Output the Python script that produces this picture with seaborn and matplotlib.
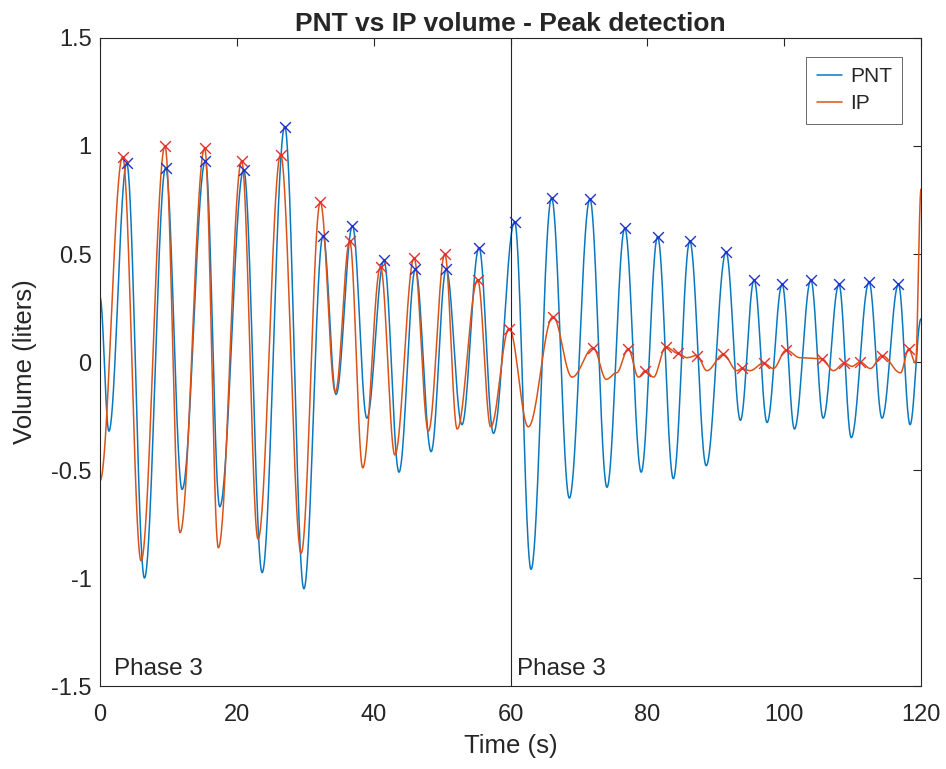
import numpy as np
import pandas as pd
import matplotlib
matplotlib.use("Agg")
import matplotlib.pyplot as plt
import seaborn as sns

# Extrema of the PNT trace (time in s, volume in liters)
pnt_t = [0, 1.3, 3.9, 6.5, 9.6, 12.0, 15.4, 17.5, 21.0, 23.7, 27.0, 29.8,
         32.6, 34.5, 36.9, 39.0, 41.5, 43.7, 46.1, 48.4, 50.6, 52.9, 55.4, 57.5,
         60.6, 63.0, 66.0, 68.6, 71.6, 74.1, 76.7, 79.1, 81.5, 83.8, 86.2, 88.6,
         91.5, 93.6, 95.6, 97.5, 99.7, 101.5, 103.9, 105.7, 108.0, 109.8, 112.4,
         114.3, 116.7, 118.4, 120]
pnt_v = [0.30, -0.32, 0.92, -1.0, 0.90, -0.59, 0.93, -0.67, 0.89, -0.975, 1.09, -1.05,
         0.585, -0.15, 0.63, -0.26, 0.47, -0.51, 0.43, -0.415, 0.43, -0.29, 0.53, -0.33,
         0.65, -0.96, 0.76, -0.63, 0.755, -0.58, 0.62, -0.51, 0.58, -0.54, 0.56, -0.48,
         0.51, -0.27, 0.38, -0.28, 0.36, -0.31, 0.38, -0.26, 0.36, -0.35, 0.37,
         -0.26, 0.36, -0.29, 0.20]

# Extrema of the IP trace
ip_t = [0, 3.3, 6.0, 9.5, 11.7, 15.3, 17.3, 20.7, 23.1, 26.4, 29.4, 32.2, 34.4,
        36.5, 38.4, 41.0, 43.1, 45.9, 48.0, 50.4, 52.2, 55.2, 57.1, 59.8, 62.6,
        66.2, 69.0, 72.1, 74.0, 75.5, 77.2, 78.7, 79.7, 80.9, 82.7, 84.5, 85.8,
        87.2, 88.7, 91.1, 93.1, 93.8, 95.0, 97.0, 98.4, 100.3, 102.3, 105.5, 107.2,
        108.8, 109.9, 111.1, 112.6, 114.3, 117.0, 118.2, 119.2, 120]
ip_v = [-0.55, 0.95, -0.92, 1.0, -0.79, 0.99, -0.86, 0.93, -0.82, 0.96, -0.885, 0.74, -0.14,
        0.56, -0.49, 0.44, -0.43, 0.48, -0.32, 0.50, -0.31, 0.38, -0.30, 0.155, -0.30,
        0.21, -0.07, 0.065, -0.08, -0.05, 0.06, -0.07, -0.04, -0.07, 0.07, 0.04, 0.02,
        0.03, -0.04, 0.035, -0.04, -0.03, -0.04, -0.005, -0.03, 0.055, 0.02, 0.015, -0.04,
        -0.005, -0.02, 0.0, -0.03, 0.03, -0.05, 0.06, -0.005, 0.80]

# Detected peaks
pnt_peak_t = [3.9, 9.6, 15.4, 21.0, 27.0, 32.6, 36.9, 41.5, 46.1, 50.6, 55.4, 60.6,
              66.0, 71.6, 76.7, 81.5, 86.2, 91.5, 95.6, 99.7, 103.9, 108.0, 112.4, 116.7]
pnt_peak_v = [0.92, 0.90, 0.93, 0.89, 1.09, 0.585, 0.63, 0.47, 0.43, 0.43, 0.53, 0.65,
              0.76, 0.755, 0.62, 0.58, 0.56, 0.51, 0.38, 0.36, 0.38, 0.36, 0.37, 0.36]
ip_peak_t = [3.3, 9.5, 15.3, 20.7, 26.4, 32.2, 36.5, 41.0, 45.9, 50.4, 55.2, 59.8,
             66.2, 72.1, 77.2, 79.7, 82.7, 84.5, 87.2, 91.1, 93.8, 97.0, 100.3, 105.5,
             108.8, 111.1, 114.3, 118.2]
ip_peak_v = [0.95, 1.0, 0.99, 0.93, 0.96, 0.74, 0.56, 0.44, 0.48, 0.50, 0.38, 0.155,
             0.21, 0.065, 0.06, -0.04, 0.07, 0.04, 0.03, 0.035, -0.03, -0.005, 0.055, 0.015,
             -0.005, 0.0, 0.03, 0.06]

phase_labels = ["Phase 3", "Phase 3"]
phase_x = [2, 61]


def smooth_trace(t_knots, v_knots, n=40):
    """Draw a smooth curve through the extrema (half-cosine between knots)"""
    ts, vs = [], []
    for i in range(len(t_knots) - 1):
        s = np.linspace(0, 1, n, endpoint=False)
        w = (1 - np.cos(np.pi * s)) / 2
        ts.extend(t_knots[i] + (t_knots[i + 1] - t_knots[i]) * s)
        vs.extend(v_knots[i] + (v_knots[i + 1] - v_knots[i]) * w)
    ts.append(t_knots[-1])
    vs.append(v_knots[-1])
    return pd.DataFrame({'t': ts, 'v': vs})


sns.set_style("white")
plt.rcParams['font.family'] = ['Liberation Sans', 'DejaVu Sans']

fig = plt.figure(figsize=(9.46, 7.69), dpi=100)
ax = fig.add_axes([0.1057, 0.1079, 0.8679, 0.8427])

pnt_df = smooth_trace(pnt_t, pnt_v)
ip_df = smooth_trace(ip_t, ip_v)

sns.lineplot(data=pnt_df, x='t', y='v', ax=ax, color='#0a78be', linewidth=1.1,
             sort=False, estimator=None, label='PNT')
sns.lineplot(data=ip_df, x='t', y='v', ax=ax, color='#D95319', linewidth=1.1,
             sort=False, estimator=None, label='IP')
sns.scatterplot(x=pnt_peak_t, y=pnt_peak_v, ax=ax, marker='x', color='#2233cc',
                s=60, linewidth=1.0, zorder=5, legend=False)
sns.scatterplot(x=ip_peak_t, y=ip_peak_v, ax=ax, marker='x', color='#e53030',
                s=60, linewidth=1.0, zorder=5, legend=False)

ax.axvline(60, color='#262626', linewidth=0.8)
for lab, xpos in zip(phase_labels, phase_x):
    ax.text(xpos, -1.42, lab, fontsize=17.5, color='#262626', va='center', ha='left')

ax.set_xlim(0, 120)
ax.set_ylim(-1.5, 1.5)
ax.set_xticks(range(0, 121, 20))
ax.set_yticks([-1.5, -1, -0.5, 0, 0.5, 1, 1.5])
ax.set_yticklabels(['-1.5', '-1', '-0.5', '0', '0.5', '1', '1.5'])
ax.tick_params(direction='in', top=True, right=True, length=6, width=0.8,
               labelsize=17, colors='#262626')
ax.tick_params(axis='x', pad=13)
ax.tick_params(axis='y', pad=6)
for sp in ax.spines.values():
    sp.set_color('#262626')
    sp.set_linewidth(0.8)

ax.set_title('PNT vs IP volume - Peak detection', fontsize=19, fontweight='bold', pad=5)
ax.set_xlabel('Time (s)', fontsize=18.5, color='#262626', labelpad=6)
ax.set_ylabel('Volume (liters)', fontsize=18.5, color='#262626', labelpad=10)

leg = ax.legend(loc='upper right', fontsize=15, frameon=True, fancybox=False,
                handlelength=1.2, handletextpad=0.4, borderaxespad=0.9,
                labelspacing=0.4, borderpad=0.5)
leg.get_frame().set_edgecolor('#262626')
leg.get_frame().set_linewidth(0.6)

fig.savefig('out.png', dpi=100)
